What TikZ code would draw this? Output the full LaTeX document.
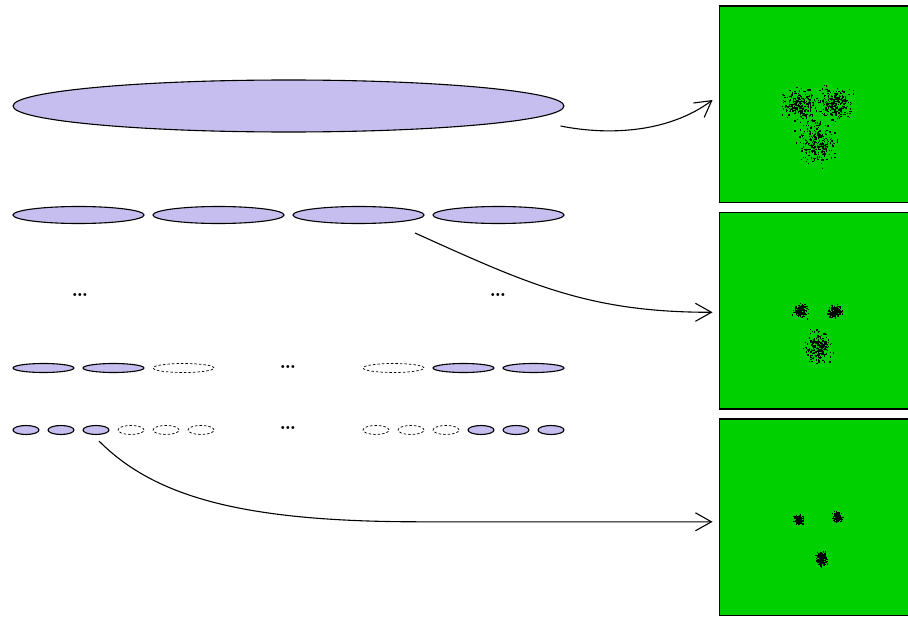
\documentclass[tikz,border=0pt]{standalone}
\usetikzlibrary{shapes.geometric, arrows.meta, positioning, calc}

\definecolor{cellfill}{RGB}{197,190,238}
\definecolor{mapgreen}{RGB}{0,208,0}

% scatter of small squares around (#1,#2), spread #3/#4, #5 points
\newcommand{\dotcloud}[5]{%
  \foreach \k in {1,...,#5}{
    \pgfmathsetmacro{\px}{#1+#3*(rand+rand+rand)}
    \pgfmathsetmacro{\py}{#2+#4*(rand+rand+rand)}
    \fill (\px,\py) rectangle +(1.3,1.3);
  }}

\begin{document}
\begin{tikzpicture}[
    x=1pt, y=-1pt,
    node distance=8.6pt,
    cell/.style={ellipse, draw=black, fill=cellfill, line width=1.1pt, inner sep=0pt},
    gap/.style={ellipse, draw=black, dash pattern=on 2.5pt off 2pt, line width=0.7pt,
                inner sep=0pt},
    more/.style={font=\huge\bfseries, inner sep=0pt},
    screen/.style={rectangle, draw=black, fill=mapgreen, line width=1.4pt,
                   minimum width=196.5pt, minimum height=196.5pt, inner sep=0pt},
    arrow/.style={-{Straight Barb[length=16pt, width=18pt]}, line width=1.1pt},
]
\useasboundingbox (0,0) rectangle (908,618);
\pgfmathsetseed{7}

% Full-width ellipse
\node[cell, minimum width=551pt, minimum height=52pt] (top) at (288.5,106) {};

% Halves
\foreach \i in {0,...,3}
  \node[cell, minimum width=131pt, minimum height=17pt] (half-\i) at (78.5+140*\i,215) {};

\node[more] (dots-left) at (80,295) {\ldots};
\node[more] (dots-right) at (498,295) {\ldots};

% Quarters
\foreach \i in {0,1,6,7}
  \node[cell, minimum width=61pt, minimum height=9pt] (quarter-\i) at (43.5+70*\i,368) {};
\foreach \i in {2,5}
  \node[gap, minimum width=61pt, minimum height=9pt] (quarter-\i) at (43.5+70*\i,368) {};
\node[more] (dots-quarter) at (288,367) {\ldots};

% Eighths
\foreach \i in {0,1,2,13,14,15}
  \node[cell, minimum width=26pt, minimum height=9pt] (eighth-\i) at (26+35*\i,430) {};
\foreach \i in {3,4,5,10,11,12}
  \node[gap, minimum width=26pt, minimum height=9pt] (eighth-\i) at (26+35*\i,430) {};
\node[more] (dots-eighth) at (288,428) {\ldots};

% Maps on the right
\node[screen] (map1) at (817.5,104.3) {};
\node[screen, below=of map1] (map2) {};
\node[screen, below=of map2] (map3) {};

% Point clouds
\dotcloud{799}{103}{8}{7}{260}
\dotcloud{835}{103}{8}{7}{260}
\dotcloud{816}{143}{8}{10}{260}

\dotcloud{800}{310}{3.2}{3}{170}
\dotcloud{835}{311}{3.2}{3}{170}
\dotcloud{817}{347}{6}{7}{230}

\dotcloud{798}{519}{2}{2.3}{140}
\dotcloud{837}{516}{2}{2.3}{140}
\dotcloud{821}{558}{2.3}{3.5}{200}

% Arrows
\coordinate (from-top) at ([shift={(-4,20)}]top.east);
\coordinate (from-half) at ([shift={(56.5,18)}]half-2.center);
\coordinate (from-eighth) at ([shift={(3,6)}]eighth-2.south);
\coordinate (to-map3) at ([shift={(-6,4.5)}]map3.west);
\coordinate (bend) at (420,0 |- to-map3);

\draw[arrow] (from-top) .. controls +(50,10) and +(-43,32) .. ([shift={(-6,-4.3)}]map1.west);
\draw[arrow] (from-half) .. controls +(115,52) and +(-123,0) .. ([shift={(-6,1.5)}]map2.west);
\draw[arrow] (from-eighth) .. controls +(55,55) and +(-180,0) .. (bend) -- (to-map3);

\end{tikzpicture}
\end{document}
